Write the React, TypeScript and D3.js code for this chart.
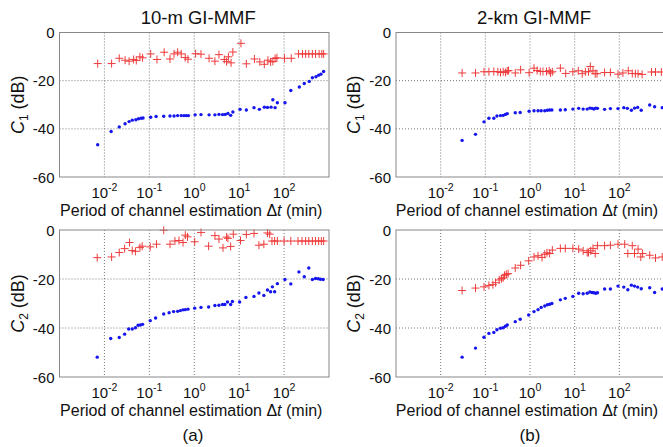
import React from "react";
import * as d3 from "d3";

// Data: [log10(Δt in min), dB]
const aC1Red: [number, number][] = [[-2.15,-12.9],[-1.84,-12.9],[-1.67,-10.7],[-1.54,-11.5],[-1.45,-11.9],[-1.35,-11.2],[-1.29,-11.6],[-1.21,-10.1],[-1.15,-10.5],[-0.97,-8.9],[-0.83,-11.2],[-0.67,-8.2],[-0.54,-11.0],[-0.45,-8.9],[-0.37,-8.2],[-0.29,-8.9],[-0.20,-10.4],[-0.14,-11.1],[0.03,-8.8],[0.15,-9.0],[0.33,-10.7],[0.46,-11.9],[0.55,-9.2],[0.67,-11.2],[0.72,-12.1],[0.76,-10.1],[0.82,-12.6],[0.86,-8.1],[1.04,-4.5],[1.16,-13.0],[1.34,-11.0],[1.46,-12.2],[1.56,-13.2],[1.64,-11.5],[1.70,-12.2],[1.75,-12.0],[1.80,-10.8],[1.84,-10.5],[2.01,-10.7],[2.16,-10.7],[2.32,-8.9],[2.41,-8.9],[2.48,-8.9],[2.55,-8.9],[2.63,-8.9],[2.70,-8.9],[2.78,-8.9],[2.84,-8.9],[2.88,-8.9]];
const aC1Blue: [number, number][] = [[-2.15,-46.6],[-1.85,-41.1],[-1.67,-39.2],[-1.54,-37.9],[-1.45,-37.0],[-1.38,-36.4],[-1.30,-36.2],[-1.24,-35.8],[-1.18,-35.6],[-1.14,-35.5],[-0.97,-35.2],[-0.85,-34.9],[-0.68,-34.8],[-0.54,-34.7],[-0.45,-34.7],[-0.37,-34.5],[-0.29,-34.5],[-0.23,-34.5],[-0.18,-34.5],[-0.13,-34.5],[0.02,-34.2],[0.15,-34.1],[0.33,-34.2],[0.46,-34.2],[0.55,-34.0],[0.63,-34.1],[0.69,-34.0],[0.75,-33.6],[0.81,-34.4],[0.86,-33.0],[1.02,-31.9],[1.16,-32.2],[1.33,-31.2],[1.45,-31.9],[1.56,-31.0],[1.63,-31.1],[1.71,-31.0],[1.75,-27.9],[1.80,-31.2],[1.85,-29.2],[2.02,-29.2],[2.15,-24.1],[2.34,-22.6],[2.45,-21.2],[2.56,-20.3],[2.63,-18.8],[2.71,-18.4],[2.77,-17.7],[2.82,-17.3],[2.88,-16.2]];
const aC2Red: [number, number][] = [[-2.16,-11.3],[-1.84,-11.0],[-1.67,-9.2],[-1.55,-7.6],[-1.44,-5.1],[-1.38,-8.4],[-1.31,-8.7],[-1.21,-7.2],[-1.16,-6.6],[-0.98,-6.9],[-0.84,-5.8],[-0.68,-0.1],[-0.54,-5.8],[-0.43,-4.5],[-0.34,-4.3],[-0.25,-5.1],[-0.20,-2.1],[-0.15,-2.8],[0.01,-4.8],[0.15,-1.0],[0.32,-6.6],[0.46,-2.3],[0.55,-3.7],[0.64,-7.3],[0.72,-2.9],[0.75,-3.4],[0.81,-6.7],[0.87,-1.7],[1.03,-4.3],[1.16,-1.8],[1.33,-1.4],[1.44,-6.2],[1.55,-5.8],[1.63,-1.2],[1.68,-1.7],[1.73,-4.5],[1.79,-4.5],[1.85,-4.5],[2.00,-4.5],[2.15,-4.5],[2.31,-4.5],[2.40,-4.5],[2.48,-4.5],[2.55,-4.5],[2.63,-4.5],[2.70,-4.5],[2.77,-4.5],[2.83,-4.5],[2.88,-4.5]];
const aC2Blue: [number, number][] = [[-2.16,-51.9],[-1.86,-44.3],[-1.67,-43.9],[-1.55,-42.5],[-1.46,-40.4],[-1.38,-40.4],[-1.31,-39.9],[-1.25,-38.9],[-1.20,-38.8],[-1.15,-38.5],[-0.98,-37.0],[-0.86,-35.9],[-0.68,-34.3],[-0.56,-33.8],[-0.46,-33.3],[-0.37,-33.2],[-0.31,-32.9],[-0.25,-32.6],[-0.20,-32.5],[-0.14,-32.3],[0.01,-31.9],[0.15,-31.6],[0.32,-31.4],[0.46,-30.8],[0.55,-30.7],[0.63,-30.4],[0.68,-30.4],[0.74,-29.4],[0.81,-30.4],[0.85,-29.2],[1.01,-29.4],[1.15,-27.5],[1.33,-27.1],[1.44,-25.7],[1.55,-26.7],[1.63,-24.5],[1.70,-25.2],[1.74,-23.2],[1.79,-25.2],[1.85,-21.9],[2.02,-20.2],[2.15,-22.0],[2.33,-17.1],[2.45,-19.1],[2.55,-15.5],[2.63,-20.2],[2.70,-19.8],[2.76,-19.9],[2.81,-20.1],[2.87,-20.2]];
const bC1Red: [number, number][] = [[-1.52,-16.8],[-1.22,-16.8],[-1.03,-16.3],[-0.92,-16.3],[-0.81,-16.2],[-0.72,-16.3],[-0.66,-16.6],[-0.60,-16.3],[-0.55,-16.6],[-0.51,-16.0],[-0.48,-15.8],[-0.33,-16.8],[-0.21,-15.5],[-0.02,-16.7],[0.09,-14.8],[0.16,-15.8],[0.23,-16.2],[0.29,-16.2],[0.37,-16.2],[0.43,-15.9],[0.46,-16.8],[0.50,-16.3],[0.68,-14.8],[0.80,-17.0],[0.96,-16.3],[1.08,-15.9],[1.17,-17.1],[1.24,-16.3],[1.31,-16.3],[1.35,-14.1],[1.41,-15.9],[1.46,-17.1],[1.50,-17.1],[1.67,-16.6],[1.80,-16.6],[1.97,-17.3],[2.08,-16.8],[2.20,-15.9],[2.29,-17.0],[2.36,-17.1],[2.42,-17.1],[2.51,-17.4],[2.72,-16.4],[2.81,-16.4],[2.94,-16.4]];
const bC1Blue: [number, number][] = [[-1.52,-44.8],[-1.22,-42.3],[-1.03,-37.1],[-0.92,-35.6],[-0.81,-35.6],[-0.74,-34.7],[-0.66,-34.5],[-0.60,-34.4],[-0.55,-34.0],[-0.51,-33.7],[-0.33,-33.3],[-0.22,-33.2],[-0.02,-32.7],[0.09,-32.5],[0.18,-32.5],[0.25,-32.5],[0.33,-32.5],[0.39,-32.3],[0.44,-32.2],[0.49,-32.2],[0.68,-32.2],[0.79,-32.1],[0.96,-31.8],[1.09,-31.5],[1.19,-31.8],[1.28,-31.8],[1.34,-31.4],[1.39,-31.5],[1.43,-31.8],[1.47,-31.4],[1.51,-31.5],[1.67,-31.9],[1.80,-31.6],[1.97,-31.6],[2.10,-31.2],[2.18,-31.5],[2.27,-32.3],[2.34,-31.4],[2.41,-31.1],[2.49,-32.3],[2.68,-30.1],[2.79,-30.8],[2.96,-31.2]];
const bC2Red: [number, number][] = [[-1.52,-24.7],[-1.22,-23.7],[-1.03,-23.2],[-0.92,-22.6],[-0.83,-22.3],[-0.77,-21.5],[-0.69,-20.4],[-0.64,-19.9],[-0.60,-19.5],[-0.57,-18.5],[-0.53,-18.1],[-0.49,-17.8],[-0.33,-15.5],[-0.21,-14.4],[-0.03,-12.6],[0.09,-11.0],[0.18,-10.5],[0.27,-11.2],[0.33,-9.9],[0.38,-9.3],[0.44,-9.6],[0.50,-8.2],[0.68,-7.5],[0.79,-7.5],[0.96,-7.5],[1.09,-7.8],[1.19,-8.5],[1.28,-9.2],[1.31,-9.2],[1.36,-8.5],[1.41,-7.5],[1.46,-9.6],[1.51,-6.4],[1.67,-6.4],[1.80,-6.2],[1.97,-5.8],[2.12,-5.8],[2.19,-9.6],[2.29,-6.4],[2.34,-9.6],[2.42,-7.8],[2.48,-11.0],[2.52,-9.6],[2.68,-10.3],[2.81,-11.4],[2.96,-11.0]];
const bC2Blue: [number, number][] = [[-1.52,-51.9],[-1.22,-48.2],[-1.03,-43.8],[-0.92,-42.2],[-0.81,-41.8],[-0.74,-40.7],[-0.66,-40.1],[-0.60,-39.9],[-0.55,-39.3],[-0.51,-38.8],[-0.33,-37.4],[-0.22,-36.4],[-0.03,-34.7],[0.09,-33.3],[0.18,-32.5],[0.25,-31.6],[0.33,-31.0],[0.39,-30.5],[0.44,-30.3],[0.49,-30.0],[0.68,-28.5],[0.79,-27.9],[0.96,-27.1],[1.09,-25.8],[1.19,-26.0],[1.28,-25.8],[1.34,-25.3],[1.39,-25.5],[1.43,-25.6],[1.47,-25.8],[1.51,-25.6],[1.67,-24.1],[1.80,-24.1],[1.97,-22.9],[2.10,-23.3],[2.19,-24.4],[2.27,-22.5],[2.34,-22.9],[2.41,-23.3],[2.49,-24.0],[2.68,-23.6],[2.79,-25.5],[2.96,-24.1]];

const xTickExps = [-2, -1, 0, 1, 2];
const yTicks = [0, -20, -40, -60];
const titles = ["10-m GI-MMF", "2-km GI-MMF"];
const subLabels = ["(a)", "(b)"];

const FONT = '"Liberation Sans", Arial, Helvetica, sans-serif';
const RED = "#ee3b3b";
const BLUE = "#1515ee";

type PanelProps = {
  x0: number; x1: number; y0: number; y1: number;
  red: [number, number][]; blue: [number, number][];
  sub: string; title?: string;
};

function Panel({ x0, x1, y0, y1, red, blue, sub, title }: PanelProps) {
  const xs = d3.scaleLog().domain([1e-3, 1e3]).range([x0, x1]);
  const ys = d3.scaleLinear().domain([-60, 0]).range([y1, y0]);
  const cx = (x0 + x1) / 2;
  const cy = (y0 + y1) / 2;
  return (
    <g fontFamily={FONT}>
      {title && (
        <text x={cx + 4} y={y0 - 9} textAnchor="middle" fontSize={18.5} fill="#111">{title}</text>
      )}
      <rect x={x0} y={y0} width={x1 - x0} height={y1 - y0} fill="#fff" stroke="none" />
      {xTickExps.map((e) => (
        <line key={"gx" + e} x1={xs(10 ** e)} x2={xs(10 ** e)} y1={y0} y2={y1} stroke="#555" strokeWidth={0.8} strokeDasharray="1,2" />
      ))}
      {yTicks.filter((v) => v > -60 && v < 0).map((v) => (
        <line key={"gy" + v} x1={x0} x2={x1} y1={ys(v)} y2={ys(v)} stroke="#555" strokeWidth={0.8} strokeDasharray="1,2" />
      ))}
      {red.map((p, i) => {
        const px = xs(10 ** p[0]);
        const py = ys(p[1]);
        return (
          <path key={"r" + i} d={`M${px - 4},${py}H${px + 4}M${px},${py - 4}V${py + 4}`} stroke={RED} strokeWidth={1} fill="none" />
        );
      })}
      {blue.map((p, i) => (
        <circle key={"b" + i} cx={xs(10 ** p[0])} cy={ys(p[1])} r={1.7} fill={BLUE} />
      ))}
      <rect x={x0} y={y0} width={x1 - x0} height={y1 - y0} fill="none" stroke="#888" strokeWidth={1} />
      {yTicks.map((v) => (
        <text key={"yt" + v} x={x0 - 5} y={ys(v) + 5.5} textAnchor="end" fontSize={15} fill="#111">{String(v)}</text>
      ))}
      {xTickExps.map((e) => (
        <text key={"xt" + e} x={xs(10 ** e)} y={y1 + 21} textAnchor="middle" fontSize={15} fill="#111">
          10<tspan dy={-7} fontSize={10.5}>{String(e)}</tspan>
        </text>
      ))}
      <text x={cx - 3} y={y1 + 39} textAnchor="middle" fontSize={16} fill="#111">
        Period of channel estimation Δ<tspan fontStyle="italic">t</tspan> (min)
      </text>
      <text transform={`translate(${x0 - 36},${cy}) rotate(-90)`} textAnchor="middle" fontSize={18} fill="#111">
        <tspan fontStyle="italic">C</tspan><tspan dy={4} fontSize={12}>{sub}</tspan><tspan dy={-4}> (dB)</tspan>
      </text>
    </g>
  );
}

export default function App() {
  return (
    <svg width={663} height={447} style={{ position: "absolute", left: 0, top: 0, background: "#fff" }}>
      <rect width={663} height={447} fill="#fff" />
      <Panel x0={59.5} x1={329} y0={32.5} y1={177} red={aC1Red} blue={aC1Blue} sub="1" title={titles[0]} />
      <Panel x0={396} x1={664} y0={32.5} y1={177} red={bC1Red} blue={bC1Blue} sub="1" title={titles[1]} />
      <Panel x0={59.5} x1={329} y0={230} y1={377} red={aC2Red} blue={aC2Blue} sub="2" />
      <Panel x0={396} x1={664} y0={230} y1={377} red={bC2Red} blue={bC2Blue} sub="2" />
      <text x={193} y={441} textAnchor="middle" fontSize={17} fontFamily={FONT} fill="#111">{subLabels[0]}</text>
      <text x={530} y={441} textAnchor="middle" fontSize={17} fontFamily={FONT} fill="#111">{subLabels[1]}</text>
    </svg>
  );
}
